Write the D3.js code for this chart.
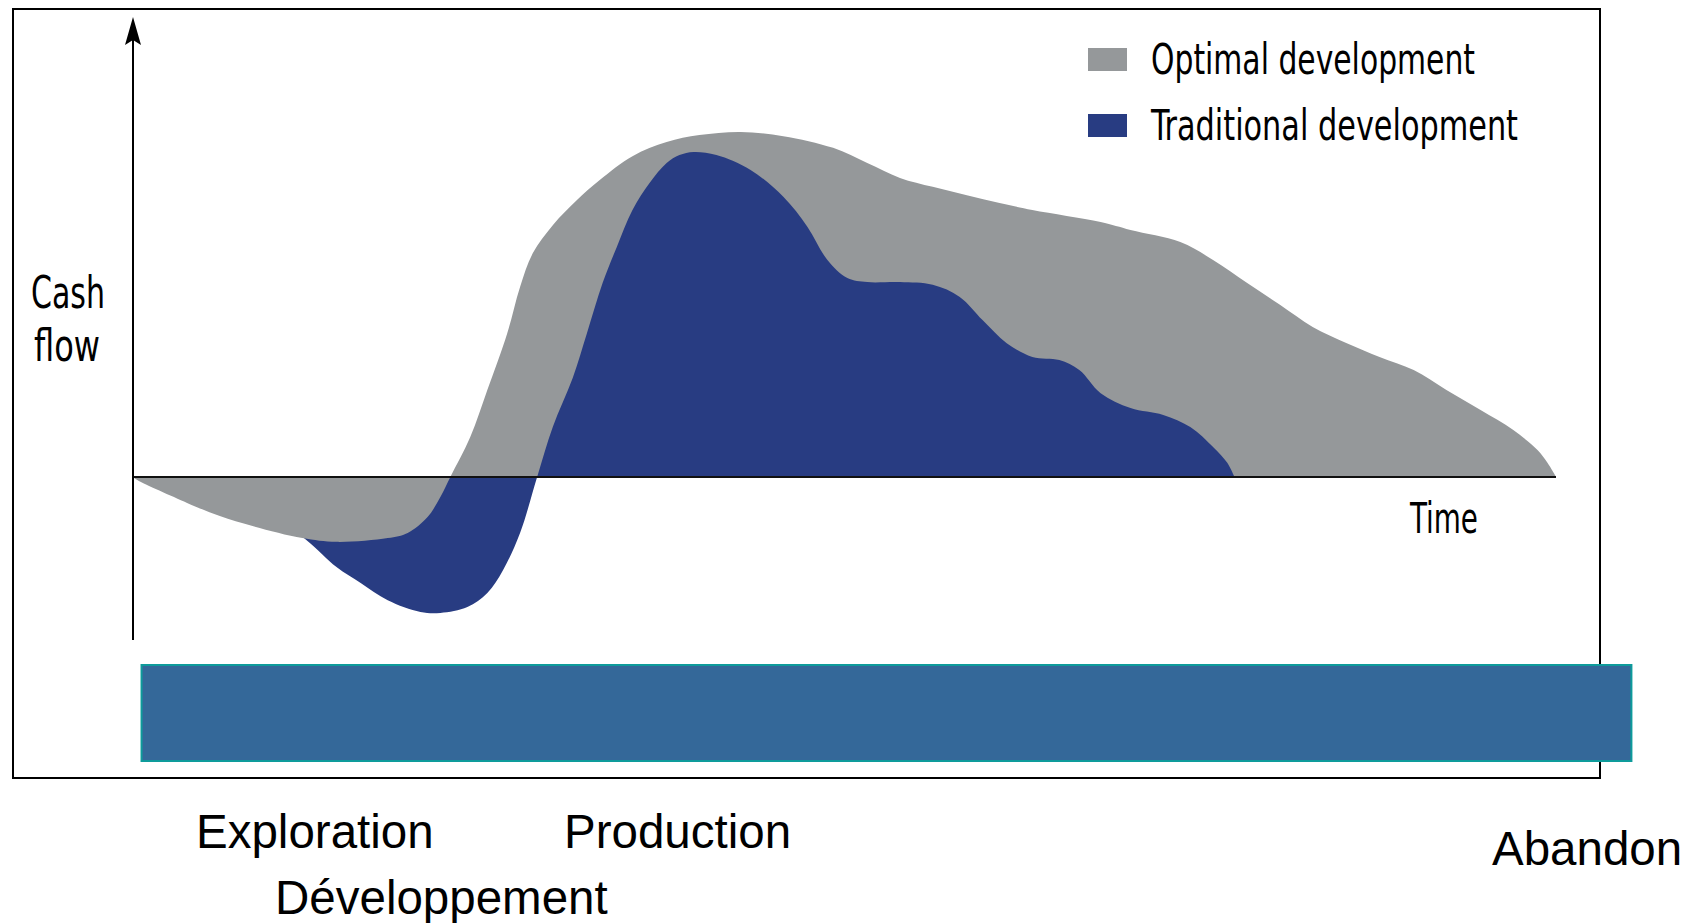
<!DOCTYPE html>
<html lang="en">
<head>
<meta charset="UTF-8">
<title>Cash flow - optimal vs traditional development</title>
<script src="https://cdn.jsdelivr.net/npm/d3@7.8.5/dist/d3.min.js"></script>
<style>
    body{
        margin:0;
        background:#fff;
    }
    svg{
        display:block;
    }
    .cond{
        font-family:"Liberation Sans Narrow","DejaVu Sans Condensed","Liberation Sans",Arial,sans-serif;
    }
    .phase{
        font-family:"Liberation Sans",Arial,sans-serif;
        font-size:47.5px;
    }
</style>
</head>
<body>
<div id="chart"></div>
<script>
// time axis runs 0..100, cash flow in arbitrary units (peak of optimal = 100)
const optimalTime = [0, 0.3, 3.8, 6.1, 8.4, 11.9, 14.3, 17.9, 19.3, 20.7, 21.6, 22.3, 23.7, 24.9, 26.3, 27.2, 28.1, 29.5, 31.2, 32.8, 35.1, 37.5, 39.8, 42.7, 45.7, 49.2, 51.6, 53.9, 56.2, 58.6, 60.9, 63.2, 68.0, 70.1, 73.6, 75.9, 78.3, 80.6, 82.9, 85.3, 87.6, 90.0, 92.3, 94.7, 97.0, 98.7, 99.4, 100];
const optimalCash = [0, -0.9, -7.5, -11.3, -14.2, -17.7, -18.8, -17.7, -16.2, -11.6, -5.8, 0, 11.6, 25.2, 41.7, 55.1, 64.9, 73.0, 80.3, 86.1, 93.0, 97.1, 99.1, 100, 98.8, 95.4, 91.0, 86.7, 84.1, 81.7, 79.4, 77.4, 73.9, 71.6, 68.1, 62.9, 56.2, 49.9, 43.5, 38.8, 34.8, 31.0, 25.2, 19.4, 13.6, 7.8, 4.1, 0];

const traditionalTime = [0, 5, 9, 12.2, 14.3, 16.0, 17.9, 20.2, 21.6, 23.5, 24.9, 26.0, 27.2, 28.4, 29.5, 30.9, 31.9, 33.0, 34.0, 35.1, 36.3, 37.5, 38.4, 39.4, 41.0, 43.4, 45.7, 47.4, 48.8, 50.2, 51.6, 53.9, 56.2, 58.1, 59.7, 61.4, 63.2, 65.1, 66.5, 68.0, 70.1, 72.4, 74.3, 75.9, 76.9, 77.4];
const traditionalCash = [0, -3, -9, -18.3, -26.1, -30.7, -35.7, -39.1, -39.4, -37.7, -33.6, -27.0, -16.2, 0, 14.5, 28.7, 41.7, 56.2, 66.7, 77.4, 85.2, 91.0, 93.3, 94.2, 93.3, 89.0, 81.2, 72.5, 62.9, 57.7, 56.5, 56.5, 55.7, 52.2, 45.5, 38.8, 34.8, 33.9, 31.0, 24.3, 20.0, 18.0, 14.5, 8.7, 4.1, 0];

const seriesNames = ["Optimal development", "Traditional development"];
const seriesColors = ["#95989a", "#283c82"];

// phase band under the chart (time units)
const phaseBand = [0.6, 105.3];
const phaseLabels = ["Exploration", "Développement", "Production", "Abandon"];

const W = 1689, H = 923;

const svg = d3.select("#chart")
    .append("svg")
    .attr("width", W)
    .attr("height", H);

const xScale = d3.scaleLinear().domain([0, 100]).range([133, 1556]);
const yScale = d3.scaleLinear().domain([0, 100]).range([477, 132]);

const optimal = optimalTime.map((t, i) => ({t: t, v: optimalCash[i]}));
const traditional = traditionalTime.map((t, i) => ({t: t, v: traditionalCash[i]}));

const area = d3.area()
    .x(d => xScale(d.t))
    .y0(yScale(0))
    .y1(d => yScale(d.v))
    .curve(d3.curveCatmullRom.alpha(0.5));

// outer frame
svg.append("rect")
    .attr("x", 13).attr("y", 9)
    .attr("width", 1600 - 13).attr("height", 778 - 9)
    .attr("fill", "none")
    .attr("stroke", "#000")
    .attr("stroke-width", 2);

// clip for the positive half so the smaller shape sits on top in each half
svg.append("clipPath").attr("id", "pos")
    .append("rect")
    .attr("x", 0).attr("y", 0)
    .attr("width", W).attr("height", yScale(0));

// blue first, gray over it, then blue again above zero
svg.append("path")
    .datum(traditional)
    .attr("fill", seriesColors[1])
    .attr("d", area);

svg.append("path")
    .datum(optimal)
    .attr("fill", seriesColors[0])
    .attr("d", area);

svg.append("path")
    .datum(traditional)
    .attr("fill", seriesColors[1])
    .attr("clip-path", "url(#pos)")
    .attr("d", area);

// time axis
svg.append("line")
    .attr("x1", xScale(0)).attr("x2", xScale(100))
    .attr("y1", yScale(0)).attr("y2", yScale(0))
    .attr("stroke", "#111")
    .attr("stroke-width", 2.2);

// cash flow axis with arrow
svg.append("line")
    .attr("x1", xScale(0)).attr("x2", xScale(0))
    .attr("y1", 640).attr("y2", 30)
    .attr("stroke", "#000")
    .attr("stroke-width", 2);

const ax = xScale(0);
svg.append("polygon")
    .attr("points", `${ax},17 ${ax + 8},45 ${ax},40 ${ax - 8},45`)
    .attr("fill", "#000");

svg.append("text")
    .attr("class", "cond")
    .attr("x", 31).attr("y", 308)
    .attr("textLength", 74).attr("lengthAdjust", "spacingAndGlyphs")
    .style("font-size", "44px")
    .text("Cash");

svg.append("text")
    .attr("class", "cond")
    .attr("x", 34).attr("y", 361)
    .attr("textLength", 66).attr("lengthAdjust", "spacingAndGlyphs")
    .style("font-size", "44px")
    .text("flow");

svg.append("text")
    .attr("class", "cond")
    .attr("x", 1410).attr("y", 533)
    .attr("textLength", 68).attr("lengthAdjust", "spacingAndGlyphs")
    .style("font-size", "42px")
    .text("Time");

// legend
const legend = svg.append("g").attr("transform", "translate(1088,48)");
const legendWidths = [324, 367];
seriesNames.forEach((name, i) => {
    const row = legend.append("g").attr("transform", `translate(0, ${i * 66})`);
    row.append("rect")
        .attr("width", 39).attr("height", 23)
        .attr("fill", seriesColors[i]);
    row.append("text")
        .attr("class", "cond")
        .attr("x", 63).attr("y", 26)
        .attr("textLength", legendWidths[i]).attr("lengthAdjust", "spacingAndGlyphs")
        .style("font-size", "43px")
        .text(name);
});

// phase band
svg.append("rect")
    .attr("x", xScale(phaseBand[0])).attr("y", 665)
    .attr("width", xScale(phaseBand[1]) - xScale(phaseBand[0]))
    .attr("height", 96)
    .attr("fill", "#346899")
    .attr("stroke", "#0e9b9b")
    .attr("stroke-width", 2);

const labelPos = [[196, 848], [275, 914], [564, 848], [1492, 865]];
phaseLabels.forEach((lab, i) => {
    svg.append("text")
        .attr("class", "phase")
        .attr("x", labelPos[i][0]).attr("y", labelPos[i][1])
        .attr("fill", "#000")
        .text(lab);
});
</script>
</body>
</html>
